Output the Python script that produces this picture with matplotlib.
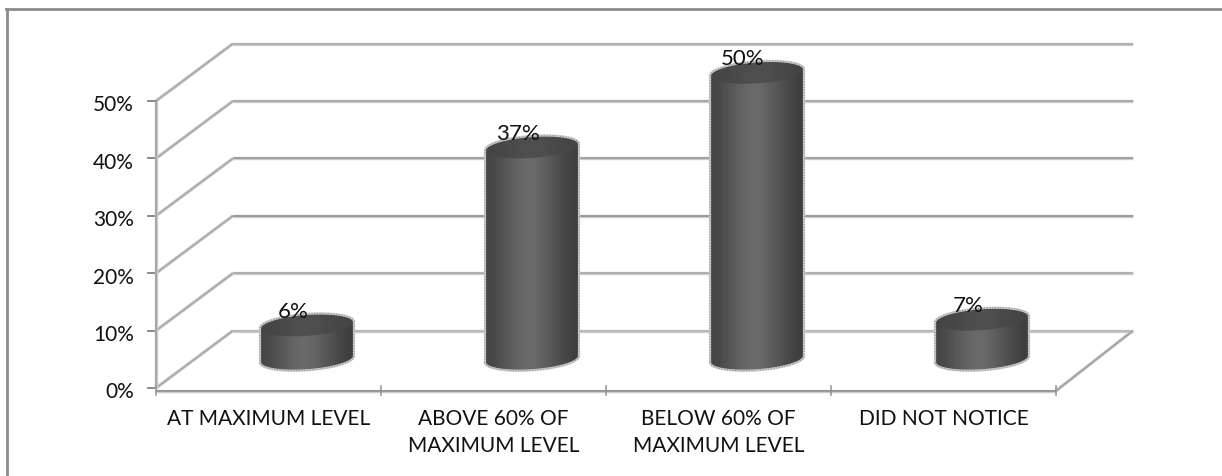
import numpy as np
import matplotlib
matplotlib.use("Agg")
import matplotlib.pyplot as plt
from matplotlib.lines import Line2D

labels = ["AT MAXIMUM LEVEL", "ABOVE 60% OF\nMAXIMUM LEVEL", "BELOW 60% OF\nMAXIMUM LEVEL", "DID NOT NOTICE"]
values = [6, 37, 50, 7]
value_labels = ["6%", "37%", "50%", "7%"]
y_ticks = [0, 10, 20, 30, 40, 50]

W, H = 1222, 476
plt.rcParams["font.family"] = ["Lato", "DejaVu Sans"]

fig = plt.figure(figsize=(W / 100, H / 100), dpi=100, facecolor="white")

# frame lines along the top and left of the chart
fig.add_artist(Line2D([6.5 / W, 6.5 / W], [0, 1 - 8.5 / H], color="#8c8c8c", lw=2.0))
fig.add_artist(Line2D([5.5 / W, 1], [1 - 8.5 / H, 1 - 8.5 / H], color="#8c8c8c", lw=2.0))

# axes covers the front edge of the floor, 0-50 % on y
ax = fig.add_axes([156 / W, 1 - 388 / H, 900 / W, 287 / H])
ax.axis("off")

px_x = 225.0   # pixels per category
px_y = 5.74    # pixels per percent
depth_x = 77 / px_x
depth_y = 10.0


def rough_line(xs, ys, core="#9e9e9e", z=1):
    ax.plot(xs, ys, color="#cccccc", lw=2.4, solid_capstyle="butt", clip_on=False, zorder=z)
    ax.plot(xs, ys, color=core, lw=1.1, solid_capstyle="butt", clip_on=False, zorder=z + 0.1)


# back wall gridlines and side wall
wall_core = {0: "#b4b4b4", 10: "#a8a8a8", 20: "#8c8c8c", 30: "#969696", 40: "#a0a0a0", 50: "#a8a8a8"}
for t in y_ticks:
    rough_line([depth_x, 4 + depth_x], [t + depth_y, t + depth_y], core=wall_core[t])
    rough_line([0, depth_x], [t, t + depth_y], core="#a8a8a8")
    ax.plot([-8 / px_x, 0], [t, t], color="#808080", lw=1.3, clip_on=False, zorder=2)

# left axis, floor and right floor edge
rough_line([0, 0], [0, 50], z=2)
rough_line([0, 4], [-0.5, -0.5], core="#8c8c8c", z=2)
rough_line([4, 4 + depth_x], [-0.5, depth_y], z=2)
for i in range(5):
    ax.plot([i, i], [-1.3, 0.3], color="#989898", lw=1.2, clip_on=False, zorder=2)

gradient = np.array([[0.27, 0.30, 0.34, 0.38, 0.41, 0.42, 0.39, 0.35, 0.31, 0.27, 0.24]])
gradient_top = np.array([[0.27, 0.28, 0.30, 0.31, 0.30, 0.28, 0.27]])

half_w = 47.0 / px_x
half_h = 11.0 / px_y
tilt = 3.2 / px_y   # ellipses lean up towards the right


def ellipse(cx, cy, t):
    return cx + half_w * np.cos(t), cy + half_h * np.sin(t) + tilt * np.cos(t)


for i, (val, txt) in enumerate(zip(values, value_labels)):
    cx = i + 0.5 + depth_x / 2
    base = depth_y / 2
    top = base + val

    # silhouette: lower half of the base ellipse, then back along the top
    bx, by = ellipse(cx, base, np.linspace(np.pi, 2 * np.pi, 60))
    tx, ty = ellipse(cx, top, np.linspace(0, np.pi, 60))
    body = np.column_stack([np.r_[bx, tx], np.r_[by, ty]])

    im = ax.imshow(gradient, cmap="gray", vmin=0, vmax=1, aspect="auto", interpolation="bicubic",
                   extent=[cx - half_w, cx + half_w, base - 5, top + 5], zorder=4)
    im.set_clip_box(fig.bbox)
    im.set_clip_path(plt.Polygon(body, closed=True, transform=ax.transData))

    # top face, no edge so it melts into the body
    ex, ey = ellipse(cx, top, np.linspace(0, 2 * np.pi, 120))
    cap = np.column_stack([ex, ey])
    im2 = ax.imshow(gradient_top, cmap="gray", vmin=0, vmax=1, aspect="auto", interpolation="bicubic",
                    extent=[cx - half_w, cx + half_w, top - 5, top + 5], zorder=5)
    im2.set_clip_box(fig.bbox)
    im2.set_clip_path(plt.Polygon(cap, closed=True, transform=ax.transData))

    # fuzzy grey edge round the silhouette
    ox, oy = np.r_[body[:, 0], body[0, 0]], np.r_[body[:, 1], body[0, 1]]
    ax.plot(ox, oy, color="#cfcfcf", lw=1.6, clip_on=False, zorder=6)
    ax.plot(ox, oy, color="#9a9a9a", lw=0.9, ls=(0, (1, 1.2)), clip_on=False, zorder=6.1)

    ax.text(cx - 14 / px_x, top + 13 / px_y, txt, ha="center", va="center", fontsize=16,
            color="#111111", zorder=7, clip_on=False)

ax.set_xlim(0, 4)
ax.set_ylim(0, 50)

for t in y_ticks:
    ax.text(-22 / px_x, t - 0.75, f"{t}%", ha="right", va="center", fontsize=15, color="#111111", clip_on=False)

for i, lab in enumerate(labels):
    ax.text(i + 0.5, -3.7, lab, ha="center", va="top", fontsize=15, color="#111111",
            linespacing=1.42, clip_on=False)

fig.savefig("out.png", dpi=100)
